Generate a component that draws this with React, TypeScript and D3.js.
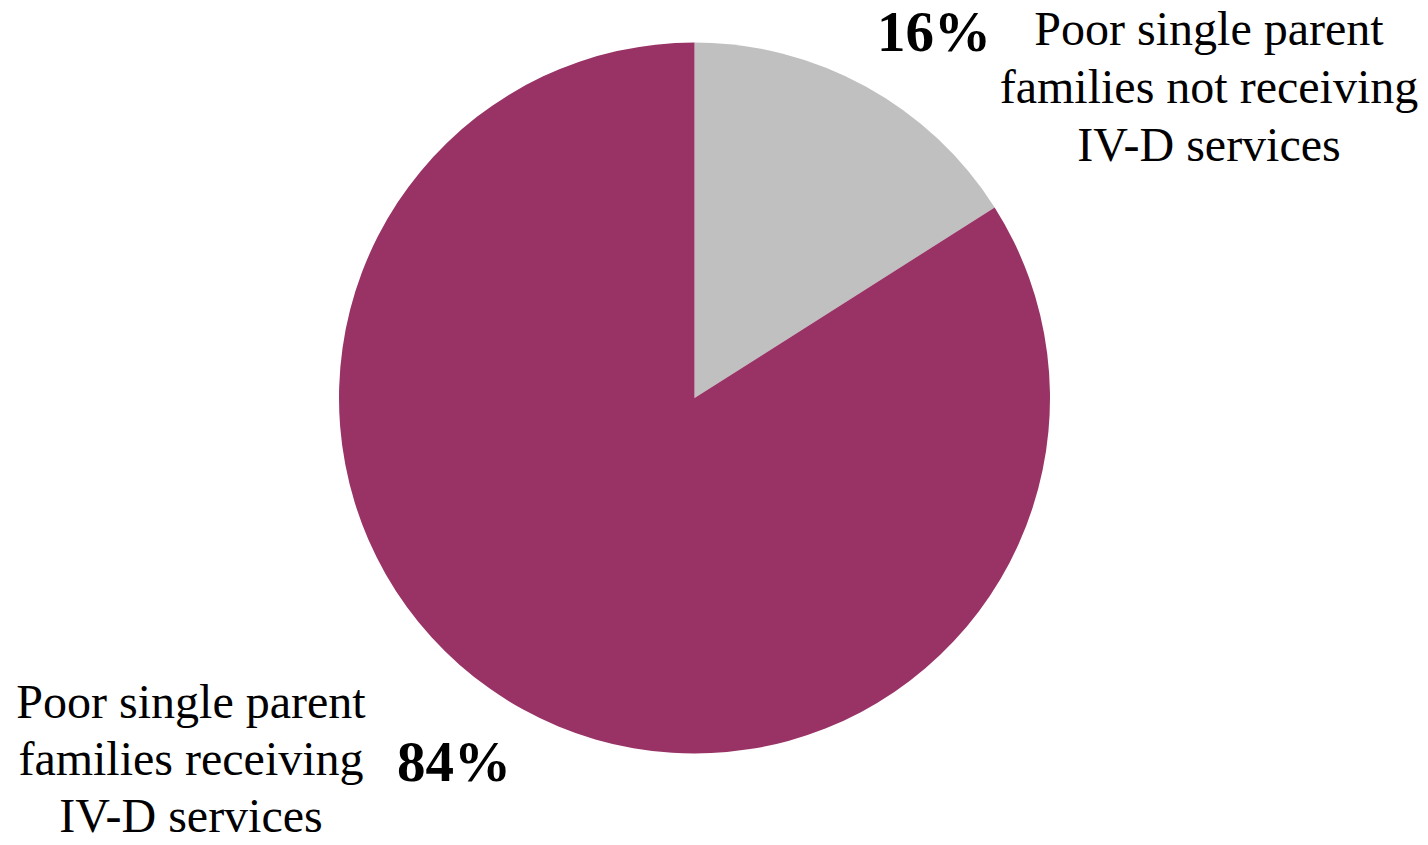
import React from "react";
import * as d3 from "d3";

const categories = [
  "Poor single parent families not receiving IV-D services",
  "Poor single parent families receiving IV-D services",
];
const values = [16, 84];
const colors = ["#C0C0C0", "#993366"];
const labelLines = [
  ["Poor single parent", "families not receiving", "IV-D services"],
  ["Poor single parent", "families receiving", "IV-D services"],
];

export default function App() {
  const W = 1428, H = 845;
  const cx = 694.5, cy = 398, r = 355.5;
  const pie = d3.pie<number>().sort(null).value((d) => d)(values);
  const arc = d3.arc<d3.PieArcDatum<number>>().innerRadius(0).outerRadius(r);
  const font = "'Liberation Serif', 'Times New Roman', serif";
  return (
    <svg width={W} height={H} style={{ position: "absolute", left: 0, top: 0 }}>
      <rect width={W} height={H} fill="#fff" />
      <g transform={`translate(${cx},${cy})`}>
        {pie.map((p, i) => (
          <path key={categories[i]} d={arc(p) || ""} fill={colors[i]} />
        ))}
      </g>
      {/* top-right label */}
      <text x={934} y={51} fontFamily={font} fontWeight="bold" fontSize={57} textAnchor="middle">
        {values[0]}%
      </text>
      {labelLines[0].map((l, j) => (
        <text key={j} x={1209} y={45 + j * 58} fontFamily={font} fontSize={48} textAnchor="middle">
          {l}
        </text>
      ))}
      {/* bottom-left label */}
      {labelLines[1].map((l, j) => (
        <text key={j} x={191} y={718 + j * 57} fontFamily={font} fontSize={48} textAnchor="middle">
          {l}
        </text>
      ))}
      <text x={454} y={781} fontFamily={font} fontWeight="bold" fontSize={57} textAnchor="middle">
        {values[1]}%
      </text>
    </svg>
  );
}
